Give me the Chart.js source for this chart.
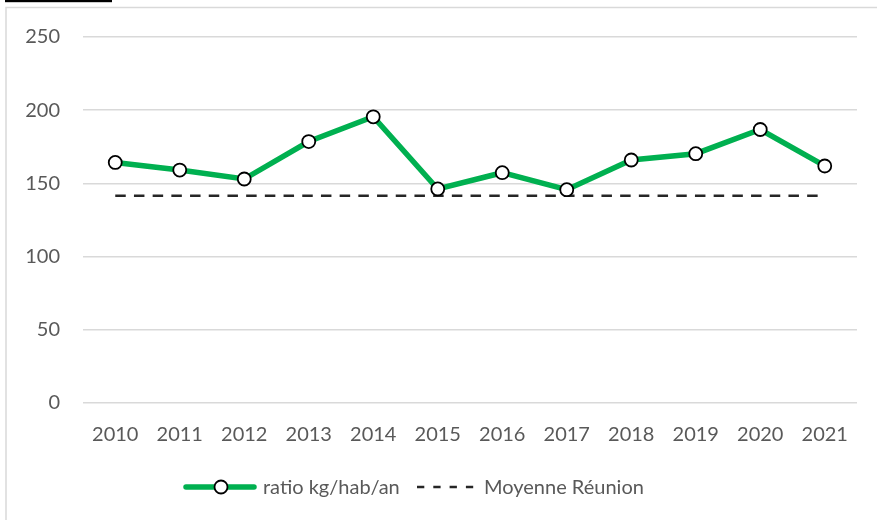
<!DOCTYPE html>
<html>
<head>
<meta charset="utf-8">
<script src="https://cdn.jsdelivr.net/npm/chart.js@4.4.1/dist/chart.umd.min.js"></script>
<style>
  html, body { margin: 0; padding: 0; background: #ffffff; }
  #wrap { width: 877px; height: 520px; position: relative; }
</style>
</head>
<body>
<div id="wrap"><canvas id="c" width="877" height="520"></canvas></div>
<script>
const years = ['2010','2011','2012','2013','2014','2015','2016','2017','2018','2019','2020','2021'];
const ratioKgHabAn = [164.3, 159.1, 153.0, 178.6, 195.5, 146.2, 157.3, 145.7, 166.0, 170.3, 186.8, 161.9];
const moyenneReunion = [141.6, 141.6, 141.6, 141.6, 141.6, 141.6, 141.6, 141.6, 141.6, 141.6, 141.6, 141.6];
const seriesNames = ['ratio kg/hab/an', 'Moyenne Réunion'];
const yTicks = [0, 50, 100, 150, 200, 250];

const FONT = 'Lato, "Open Sans", sans-serif';
const TXT = '#595959';
const GRID = '#d9d9d9';
const GREEN = '#00B050';

const framePlugin = {
  id: 'frame',
  beforeDraw(chart) {
    const ctx = chart.ctx;
    ctx.save();
    ctx.fillStyle = '#ffffff';
    ctx.fillRect(0, 0, chart.width, chart.height);
    // top black rule (cropped heading)
    ctx.fillStyle = '#000000';
    ctx.fillRect(5, 0, 107, 2.2);
    // frame border (left & top)
    ctx.strokeStyle = GRID;
    ctx.lineWidth = 1.5;
    ctx.beginPath();
    ctx.moveTo(6, chart.height + 2);
    ctx.lineTo(6, 7.5);
    ctx.lineTo(chart.width + 2, 7.5);
    ctx.stroke();
    ctx.restore();
  }
};

const legendPlugin = {
  id: 'customLegend',
  afterDraw(chart) {
    const ctx = chart.ctx;
    const y = 487;
    ctx.save();
    ctx.font = '20px ' + FONT;
    ctx.textBaseline = 'middle';
    ctx.fillStyle = TXT;
    // item 1: green line with marker
    const d0 = chart.data.datasets[0];
    ctx.strokeStyle = d0.borderColor;
    ctx.lineWidth = d0.borderWidth;
    ctx.lineCap = 'round';
    ctx.beginPath();
    ctx.moveTo(186, y);
    ctx.lineTo(254, y);
    ctx.stroke();
    ctx.beginPath();
    ctx.arc(221, y, d0.pointRadius, 0, Math.PI * 2);
    ctx.fillStyle = d0.pointBackgroundColor;
    ctx.fill();
    ctx.lineWidth = d0.pointBorderWidth;
    ctx.strokeStyle = d0.pointBorderColor;
    ctx.stroke();
    ctx.fillStyle = TXT;
    ctx.textAlign = 'left';
    ctx.fillText(d0.label, 263, y + 1);
    // item 2: dashed
    const d1 = chart.data.datasets[1];
    ctx.strokeStyle = d1.borderColor;
    ctx.lineWidth = d1.borderWidth;
    ctx.lineCap = 'butt';
    ctx.setLineDash([7.3, 9]);
    ctx.beginPath();
    ctx.moveTo(417, y);
    ctx.lineTo(476, y);
    ctx.stroke();
    ctx.setLineDash([]);
    ctx.fillText(d1.label, 484, y + 1);
    ctx.restore();
  }
};

new Chart(document.getElementById('c'), {
  type: 'line',
  data: {
    labels: years,
    datasets: [
      {
        label: seriesNames[0],
        data: ratioKgHabAn,
        borderColor: GREEN,
        backgroundColor: GREEN,
        borderWidth: 5.5,
        pointRadius: 6.5,
        pointHoverRadius: 6.5,
        pointBackgroundColor: '#ffffff',
        pointBorderColor: '#000000',
        pointBorderWidth: 1.8,
        tension: 0,
        order: 0
      },
      {
        label: seriesNames[1],
        data: moyenneReunion,
        borderColor: '#262626',
        backgroundColor: '#262626',
        borderWidth: 2.5,
        borderDash: [10.5, 8.2],
        pointRadius: 0,
        tension: 0,
        order: 1
      }
    ]
  },
  options: {
    responsive: false,
    animation: false,
    devicePixelRatio: 1,
    layout: { padding: { left: 0, right: 20, top: 37, bottom: 0 } },
    plugins: {
      legend: { display: false },
      tooltip: { enabled: false },
      title: { display: false }
    },
    scales: {
      x: {
        offset: true,
        grid: { display: false, drawTicks: false },
        border: { display: false },
        ticks: { color: TXT, font: { family: FONT, size: 20 }, padding: 20, maxRotation: 0, autoSkip: false },
        afterFit(scale) { scale.height = 117; }
      },
      y: {
        min: 0,
        max: 250,
        afterBuildTicks(scale) { scale.ticks = yTicks.map(v => ({ value: v })); },
        grid: { color: GRID, lineWidth: 1.5, drawTicks: false },
        border: { display: false },
        ticks: { color: TXT, font: { family: FONT, size: 20 }, padding: 23 },
        afterFit(scale) { scale.width = 83; }
      }
    }
  },
  plugins: [framePlugin, legendPlugin]
});
</script>
</body>
</html>
